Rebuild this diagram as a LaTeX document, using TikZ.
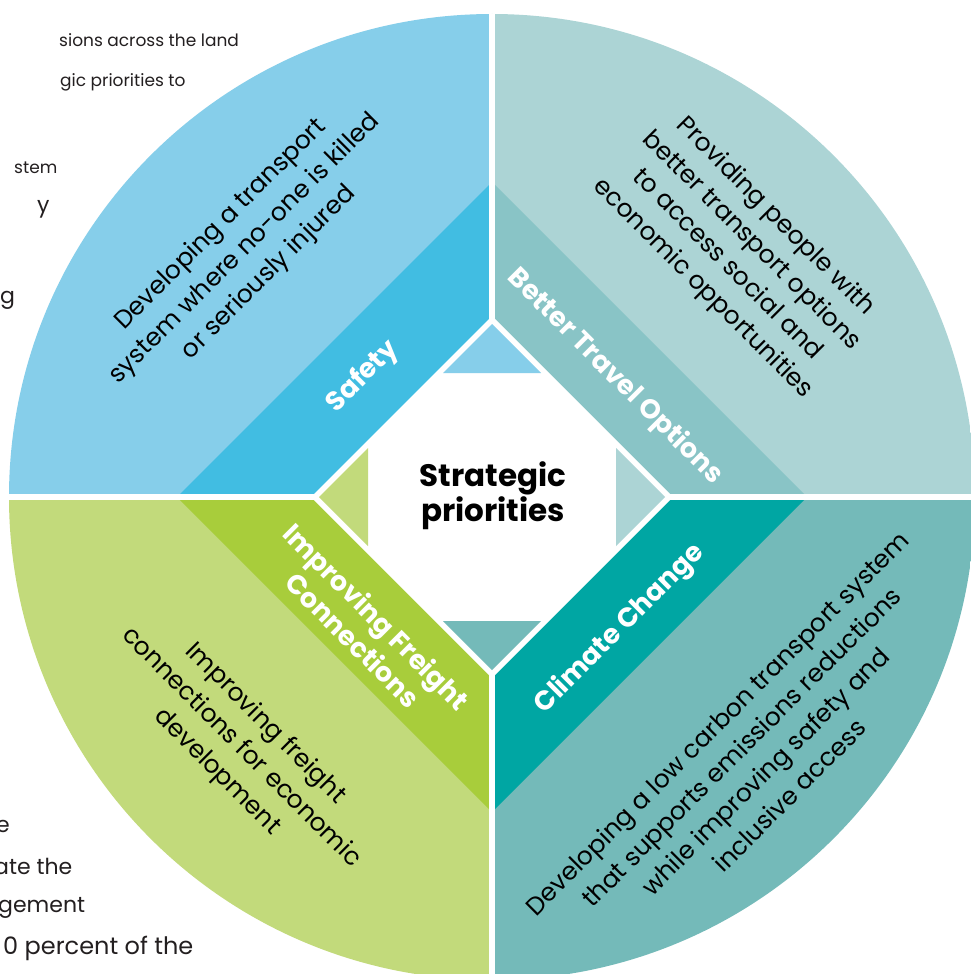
\documentclass[tikz,border=0pt]{standalone}
\usepackage{fontspec}
\setmainfont{Poppins}
\definecolor{safL}{HTML}{86CEEA}
\definecolor{safD}{HTML}{41BDE2}
\definecolor{btL}{HTML}{ACD4D5}
\definecolor{btD}{HTML}{89C4C6}
\definecolor{frL}{HTML}{C2DA7B}
\definecolor{frD}{HTML}{A8CD3B}
\definecolor{ccL}{HTML}{74BAB9}
\definecolor{ccD}{HTML}{00A6A3}
\definecolor{textgray}{HTML}{231F20}
\begin{document}
\begin{tikzpicture}[x=1pt,y=-1pt,
  body/.style={align=center, text=black, font=\fontsize{25}{34}\selectfont, inner sep=0pt},
  bandlabel/.style={align=center, text=white, font=\bfseries\fontsize{27}{33}\selectfont, inner sep=0pt},
  side/.style={anchor=base west, text=textgray, font=\fontsize{17}{24}\selectfont, inner sep=0pt},
  sidebig/.style={side, font=\fontsize{22}{24}\selectfont}]
\useasboundingbox (0,0) rectangle (970,974);
\fill[white] (0,0) rectangle (970,974);
% side text fragments
\node[side] (s1) at (59,47) {sions across the land};
\node[side] (s2) at (60,86) {gic priorities to};
\node[side] (s3) at (14,173) {stem};
\node[sidebig] (s4) at (37,212) {y};
\node[sidebig] (s5) at (0,303) {g};
\node[sidebig] (s6) at (-4,832) {e};
\node[sidebig] (s7) at (-6,874) {ate the};
\node[sidebig] (s8) at (-2,912) {gement};
\node[side, font=\fontsize{24}{24}\selectfont] (s9) at (3,954) {0 percent of the};
% circle quadrants and bands
\coordinate (c) at (492,497);
\begin{scope}
\clip (c) circle[radius=483pt];
\fill[safL] (0,0) rectangle (c);
\fill[btL] (c) rectangle (980,0);
\fill[frL] (0,980) rectangle (c);
\fill[ccL] (c) rectangle (980,980);
\fill[safD] (c) -- ++(-315,0) -- ++(315,-315) -- cycle;
\fill[btD] (c) -- ++(315,0) -- ++(-315,-315) -- cycle;
\fill[frD] (c) -- ++(-315,0) -- ++(315,315) -- cycle;
\fill[ccD] (c) -- ++(315,0) -- ++(-315,315) -- cycle;
\draw[white, line width=6pt] (0,497) -- (980,497);
\draw[white, line width=6pt] (492,0) -- (492,980);
\end{scope}
% white diamond
\fill[white] (492,316) -- (673,497) -- (492,678) -- (311,497) -- cycle;
% corner triangles
\fill[safL] (443,373) -- (541,373) -- (492,324) -- cycle;
\fill[btL] (616,448) -- (616,546) -- (665,497) -- cycle;
\fill[ccL] (443,621) -- (541,621) -- (492,670) -- cycle;
\fill[frL] (368,448) -- (368,546) -- (319,497) -- cycle;
% centre
\node[align=center, inner sep=0pt, font=\bfseries\fontsize{31}{35}\selectfont] (sp) at (493,496) {Strategic\\priorities};
% band labels
\node[bandlabel, rotate=45] (safB) at (363,377) {Safety};
\node[bandlabel, rotate=-45] (btB) at (615,377) {Better Travel Options};
\node[bandlabel, rotate=-45] (frB) at (365,628) {Improving Freight\\Connections};
\node[bandlabel, rotate=45] (ccB) at (620,629) {Climate Change};
% body texts
\node[body, rotate=45] (safT) at (245,249) {Developing a transport\\system where no-one is killed\\or seriously injured};
\node[body, rotate=-45] (btT) at (739,253) {Providing people with\\better transport options\\to access social and\\economic opportunities};
\node[body, rotate=-45] (frT) at (241,748) {Improving freight\\connections for economic\\development};
\node[body, rotate=45] (ccT) at (753,759) {Developing a low carbon transport system\\that supports emissions reductions\\while improving safety and\\inclusive access};
\end{tikzpicture}
\end{document}
